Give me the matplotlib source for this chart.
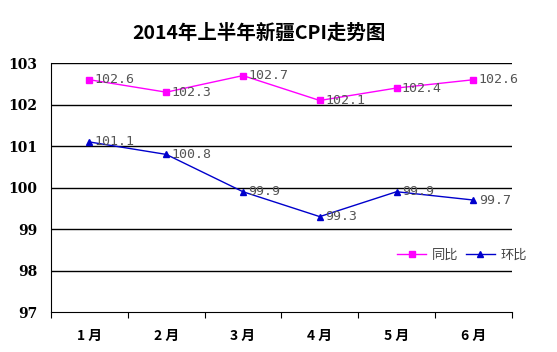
import matplotlib
matplotlib.use("Agg")
import matplotlib.pyplot as plt
import numpy as np

plt.rcParams['font.family'] = ['Noto Sans CJK SC', 'DejaVu Sans']

months = ['1 月', '2 月', '3 月', '4 月', '5 月', '6 月']
yoy = [102.6, 102.3, 102.7, 102.1, 102.4, 102.6]   # 同比
mom = [101.1, 100.8, 99.9, 99.3, 99.9, 99.7]       # 环比

fig = plt.figure(figsize=(5.57, 3.52), dpi=100)
ax = fig.add_axes([0.0916, 0.1136, 0.827, 0.707])

x = np.arange(len(months))
ax.set_xlim(-0.5, len(months) - 0.5)
ax.set_ylim(97, 103)

for y in range(98, 104):
    ax.axhline(y, color='black', lw=1, zorder=1)

ax.plot(x, yoy, color='#FF00FF', lw=1, marker='s', ms=4, label='同比', zorder=3)
ax.plot(x, mom, color='#0000CC', lw=1, marker='^', ms=5, label='环比', zorder=3)

for xi, v in zip(x, yoy):
    ax.text(xi + 0.07, v, f'{v:.1f}', fontsize=9.5, color='#555555',
            family='DejaVu Sans Mono', ha='left', va='center', zorder=4)
for xi, v in zip(x, mom):
    ax.text(xi + 0.07, v, f'{v:.1f}', fontsize=9.5, color='#555555',
            family='DejaVu Sans Mono', ha='left', va='center', zorder=4)

ax.spines['top'].set_visible(False)
ax.spines['right'].set_visible(False)
ax.spines['left'].set_color('black')
ax.spines['bottom'].set_color('black')

ax.set_yticks(range(97, 104))
ax.set_yticklabels([str(v) for v in range(97, 104)], fontweight='bold', fontsize=10,
                   family='DejaVu Serif')
ax.tick_params(axis='y', length=0, pad=10)

ax.set_xticks(np.arange(-0.5, len(months)), minor=False)
ax.set_xticklabels([])
ax.tick_params(axis='x', direction='out', length=4, color='black')
ax.set_xticks(x, minor=True)
ax.set_xticklabels(months, minor=True, fontweight='bold', fontsize=10)
ax.tick_params(axis='x', which='minor', length=0, pad=12)

ax.legend(loc='center left', bbox_to_anchor=(0.74, 0.23), frameon=False,
          ncol=2, fontsize=9.5, handlelength=2.2, columnspacing=0.6,
          handletextpad=0.4, labelcolor='#444444', borderaxespad=0)

fig.text(0.465, 0.905, '2014年上半年新疆CPI走势图', ha='center', va='center',
         fontsize=14, fontweight='bold')

fig.savefig('out.png', dpi=100)
